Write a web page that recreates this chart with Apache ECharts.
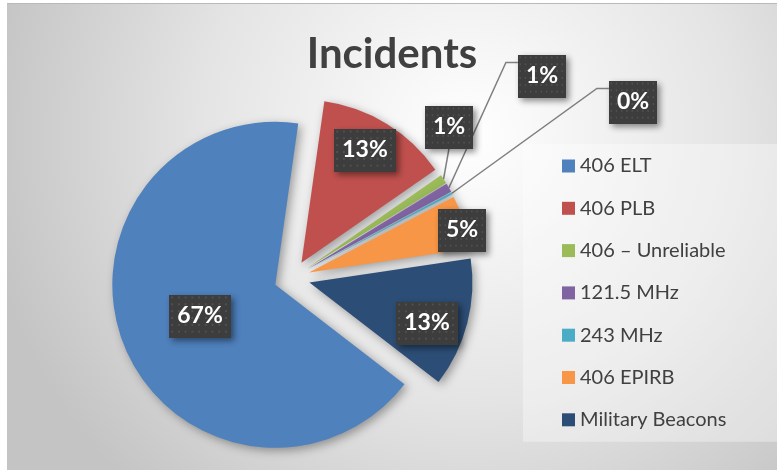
<!DOCTYPE html>
<html><head><meta charset="utf-8">
<script src="https://cdn.jsdelivr.net/npm/echarts@6/dist/echarts.min.js"></script>
<style>
html,body{margin:0;padding:0;background:#fff;width:777px;height:470px;overflow:hidden}
#c{position:absolute;left:7px;top:4px;width:770px;height:466px}
#bar{position:absolute;left:7px;top:3px;width:770px;height:1px;background:#b9b9b9}
</style></head><body><div id="bar"></div><div id="c"></div>
<script>
const chartTitle = 'Incidents';
const categories = ['406 ELT', '406 PLB', '406 – Unreliable', '121.5 MHz', '243 MHz', '406 EPIRB', 'Military Beacons'];
const values = [66.8, 13.1, 0.9, 0.9, 0.2, 5.3, 12.8];
const colors = ['#4f81bd', '#c0504d', '#9bbb59', '#8064a2', '#4bacc6', '#f79646', '#2c4d75'];

// layout (container px)
const PIE_C = [285, 274], PIE_R = 163, EXPLODE = 18, START = -37.6;
const labelAt = [[193, 312], [358, 146], [442, 123], [535, 72], [626, 98], [455, 226], [420, 319]];
const callout = [null, null, 'bottom', 'left', 'left', null, null];

const total = values.reduce((a, b) => a + b, 0);
function midAngle(i) {
  let cum = 0; for (let k = 0; k < i; k++) cum += values[k];
  return (-START + (cum + values[i] / 2) / total * 360) * Math.PI / 180;
}

// dotted label background
const pat = document.createElement('canvas');
pat.width = 64; pat.height = 44;
(function () {
  const g = pat.getContext('2d');
  g.fillStyle = '#3d3d3d'; g.fillRect(0, 0, 64, 44);
  g.fillStyle = '#505050';
  for (let y = 2; y < 44; y += 7) for (let x = 2; x < 64; x += 7) g.fillRect(x, y, 2, 2);
})();

const chart = echarts.init(document.getElementById('c'));
chart.setOption({
  animation: false,
  backgroundColor: {
    type: 'radial', x: 0.6, y: 0.28, r: 1.05,
    colorStops: [{ offset: 0, color: '#ffffff' }, { offset: 0.55, color: '#e4e4e4' }, { offset: 1, color: '#c4c4c4' }]
  },
  color: colors,
  title: {
    text: chartTitle, left: 'center', top: 24,
    textStyle: { fontFamily: 'Lato', fontWeight: 'bold', fontSize: 42, color: '#404040' }
  },
  legend: {
    orient: 'vertical', left: 516, top: 140, icon: 'rect', itemWidth: 13, itemHeight: 13,
    itemGap: 22.3, padding: [12, 60, 12, 39], backgroundColor: 'rgba(255,255,255,0.35)',
    selectedMode: false,
    textStyle: { fontFamily: 'Lato', fontSize: 20, color: '#404040' },
    data: categories
  },
  series: [{
    type: 'pie', center: PIE_C, radius: PIE_R, startAngle: START, clockwise: true,
    selectedMode: 'multiple', selectedOffset: EXPLODE, avoidLabelOverlap: false,
    percentPrecision: 0,
    emphasis: { disabled: true },
    itemStyle: { shadowBlur: 10, shadowColor: 'rgba(0,0,0,0.35)', shadowOffsetX: 3, shadowOffsetY: 3 },
    label: {
      formatter: '{d}%', color: '#fff', fontFamily: 'Lato', fontWeight: 'bold', fontSize: 23,
      backgroundColor: { image: pat }, padding: [10, 8, 10, 8],
      shadowColor: 'rgba(0,0,0,0.45)', shadowBlur: 6, shadowOffsetX: 3, shadowOffsetY: 3,
      textBorderWidth: 0
    },
    labelLine: { lineStyle: { color: '#7f7f7f', width: 1.5 } },
    labelLayout: function (p) {
      const i = p.dataIndex, at = labelAt[i], r = p.labelRect;
      const w = r.width, h = r.height;
      const a = midAngle(i);
      // labels and guide lines are moved afterwards by the explode offset
      const ox = EXPLODE * Math.cos(a), oy = EXPLODE * Math.sin(a);
      const res = { dx: at[0] - (r.x + w / 2) - ox, dy: at[1] - (r.y + h / 2) - oy };
      if (callout[i]) {
        const s = [PIE_C[0] + (PIE_R + EXPLODE) * Math.cos(a), PIE_C[1] + (PIE_R + EXPLODE) * Math.sin(a)];
        let pts;
        if (callout[i] === 'bottom') {
          const e = [at[0], at[1] + h / 2];
          pts = [s, e, e];
        } else {
          const e = [at[0] - w / 2, at[1] - h / 2 + 8];
          pts = [s, [e[0] - 12, e[1]], e];
        }
        res.labelLinePoints = pts.map(q => [q[0] - ox, q[1] - oy]);
      }
      return res;
    },
    data: categories.map((n, i) => ({
      name: n, value: values[i], selected: true,
      label: { position: callout[i] ? 'outside' : 'inside' },
      labelLine: { show: !!callout[i] }
    }))
  }]
});
</script></body></html>
